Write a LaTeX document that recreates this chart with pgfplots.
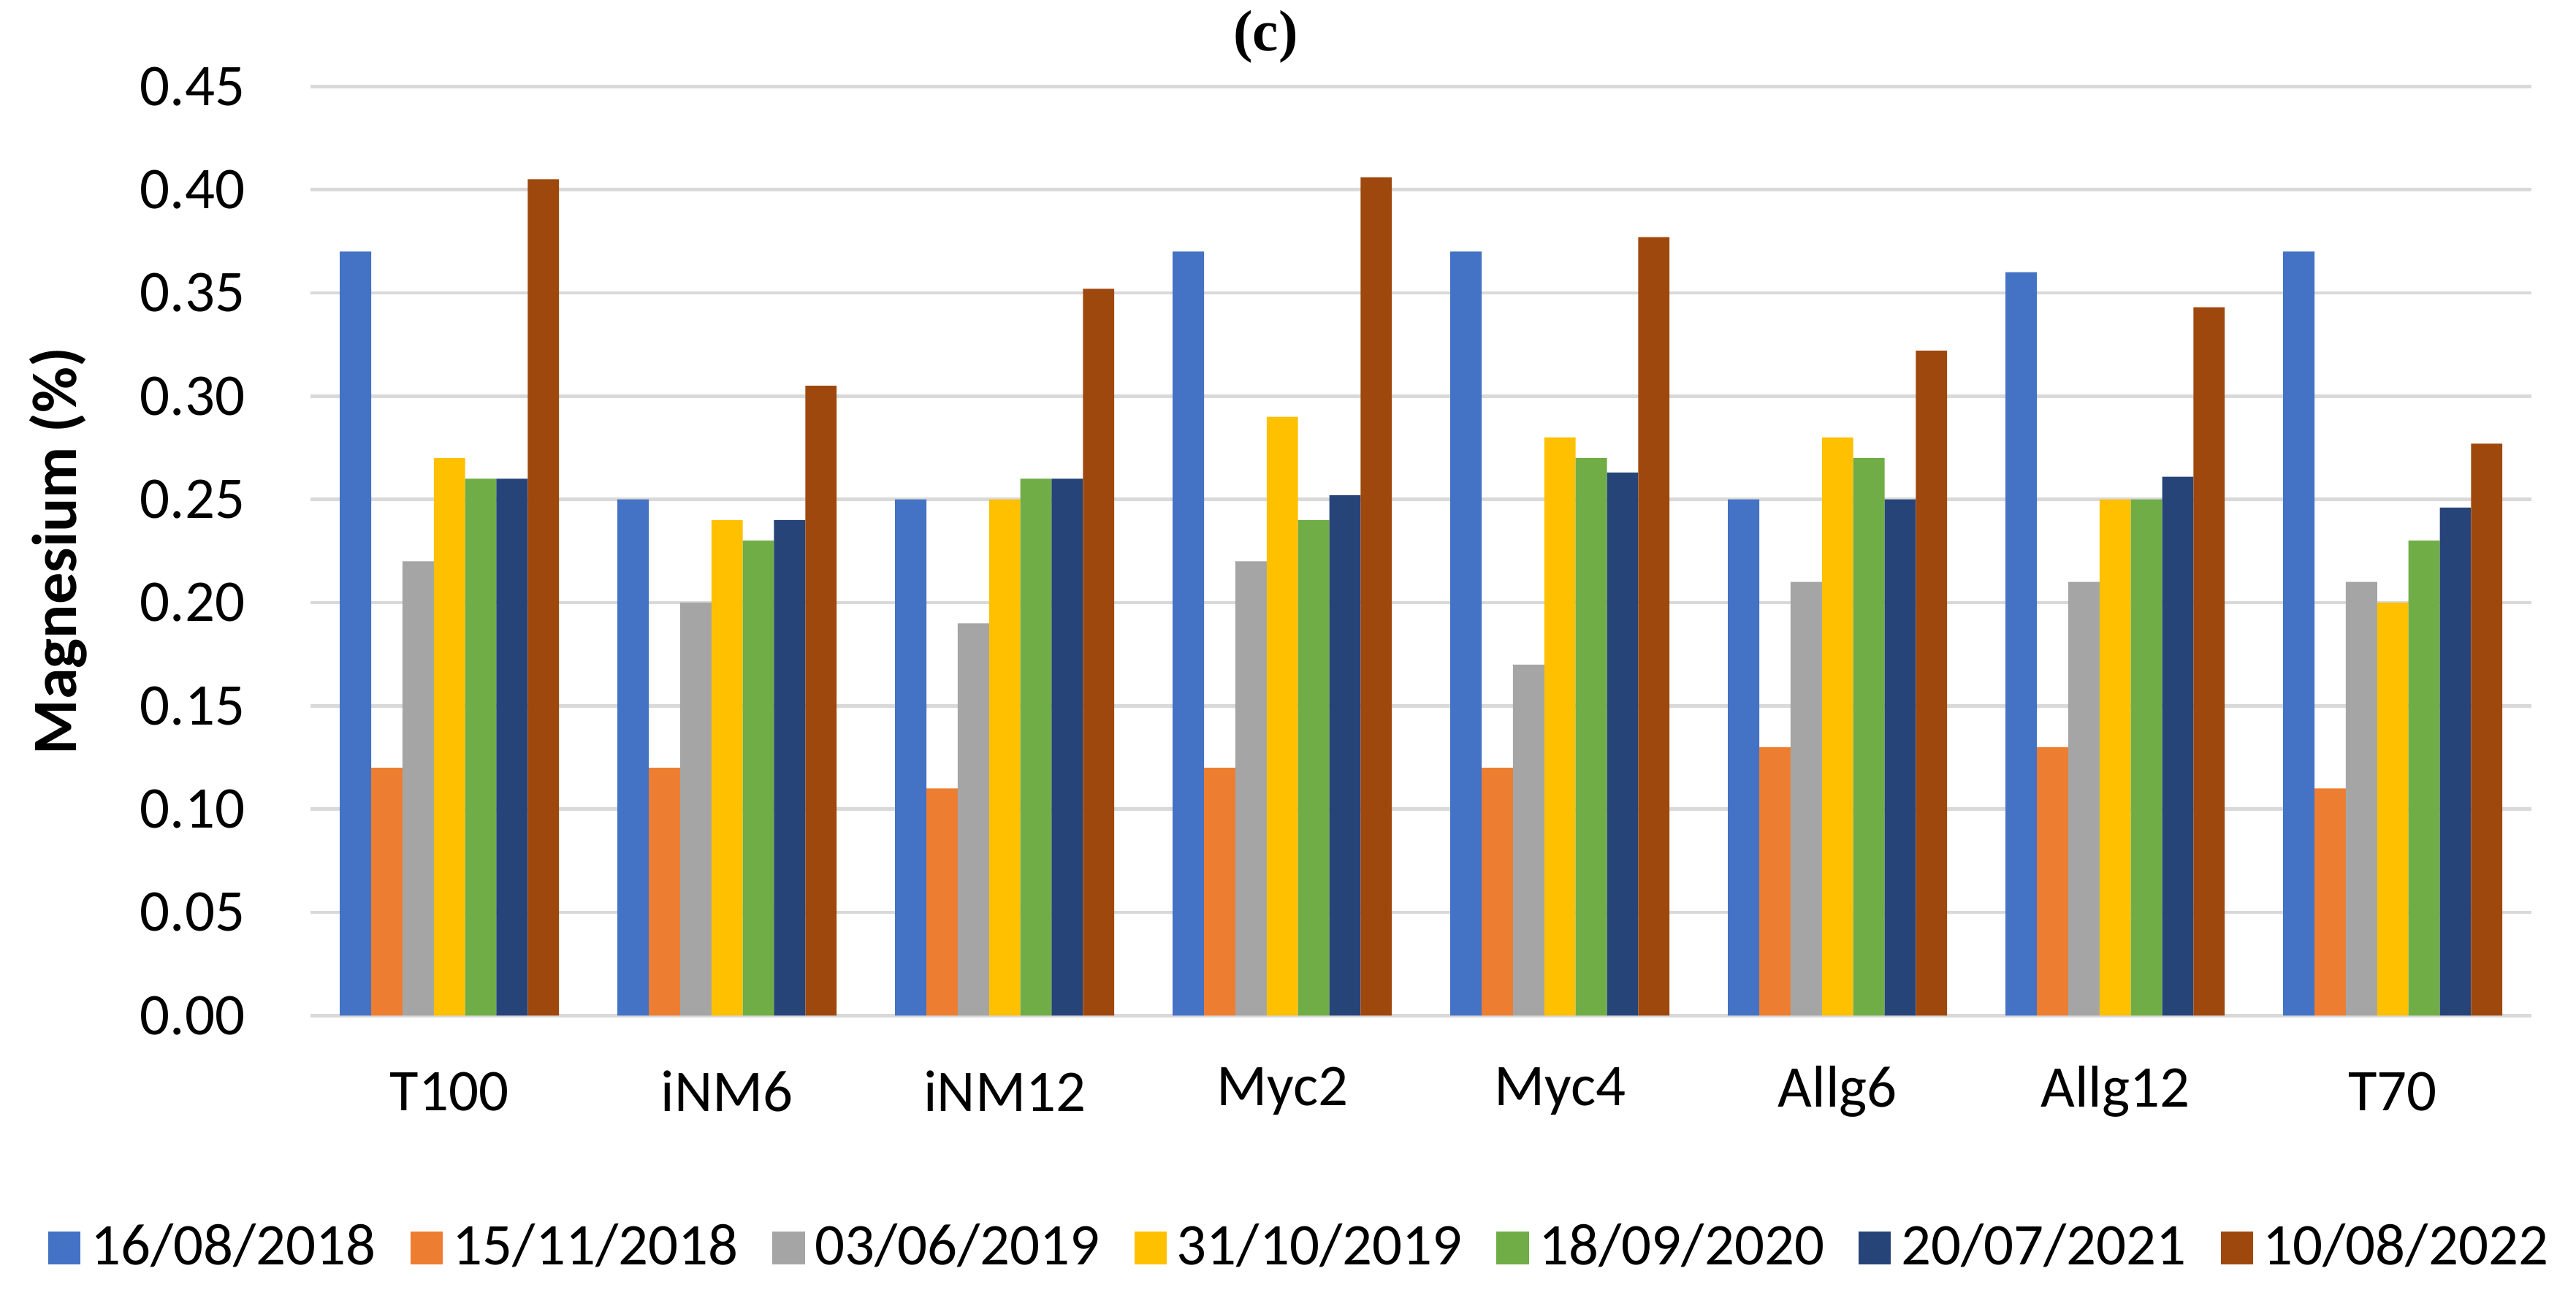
\documentclass[border=0pt]{standalone}
\usepackage{pgfplots}
\usepackage{pgfplotstable}
\pgfplotsset{compat=1.18}
\usepackage{fontspec}
\setmainfont{Carlito}
\newfontfamily\titlefont{Liberation Serif}

\definecolor{cA}{HTML}{4472C4}
\definecolor{cB}{HTML}{ED7D31}
\definecolor{cC}{HTML}{A5A5A5}
\definecolor{cD}{HTML}{FFC000}
\definecolor{cE}{HTML}{70AD47}
\definecolor{cF}{HTML}{264478}
\definecolor{cG}{HTML}{9E480E}
\definecolor{gridc}{HTML}{D9D9D9}

% magnesium (%) per treatment, one column per sampling date
\pgfplotstableread{
x  d1    d2    d3    d4    d5    d6     d7
0  0.37  0.12  0.22  0.27  0.26  0.26   0.405
1  0.25  0.12  0.20  0.24  0.23  0.24   0.305
2  0.25  0.11  0.19  0.25  0.26  0.26   0.352
3  0.37  0.12  0.22  0.29  0.24  0.252  0.406
4  0.37  0.12  0.17  0.28  0.27  0.263  0.377
5  0.25  0.13  0.21  0.28  0.27  0.25   0.322
6  0.36  0.13  0.21  0.25  0.25  0.261  0.343
7  0.37  0.11  0.21  0.20  0.23  0.246  0.277
}\mgdata

\begin{document}
\begin{tikzpicture}
\begin{axis}[
  scale only axis,
  width=439.7pt, height=184pt,
  ybar=0pt, bar width=6.2pt,
  xmin=-0.5, xmax=7.5,
  ymin=0, ymax=0.45,
  ytick={0,0.05,...,0.45},
  xtick={0,...,7},
  xticklabels={T100,iNM6,iNM12,Myc2,Myc4,Allg6,Allg12,T70},
  major tick length=0pt,
  axis line style={draw=none},
  xmajorgrids=false,
  ymajorgrids=true,
  grid style={draw=gridc, line width=0.65pt},
  /pgf/number format/assume math mode=true,
  /pgf/number format/.cd, fixed, fixed zerofill, precision=2, /pgfplots/.cd,
  tick label style={font=\fontsize{11.7}{14}\selectfont},
  yticklabel style={anchor=east, inner sep=0pt, xshift=-12.8pt},
  xticklabel style={anchor=center, inner sep=0pt, yshift=-15pt},
  ylabel={\bfseries Magnesium (\%)},
  ylabel style={at={(axis description cs:-0.1137,0.5)}, anchor=center,
    font=\fontsize{12.5}{15}\selectfont},
  title={\titlefont\bfseries (c)},
  title style={at={(axis description cs:0.43,1)}, anchor=center, yshift=3.8pt,
    font=\fontsize{11.5}{13}\selectfont},
  legend columns=7,
  legend style={at={(axis description cs:0.447,-0.25)}, anchor=center,
    draw=none, font=\fontsize{11.7}{14}\selectfont,
    /tikz/every even column/.append style={column sep=4.8pt},
    inner sep=0pt},
  legend image code/.code={\fill[#1] (0pt,-3.2pt) rectangle (6.4pt,3.2pt);},
  every axis plot/.append style={draw=none},
]
\addplot[fill=cA] table[x=x,y=d1]{\mgdata};
\addplot[fill=cB] table[x=x,y=d2]{\mgdata};
\addplot[fill=cC] table[x=x,y=d3]{\mgdata};
\addplot[fill=cD] table[x=x,y=d4]{\mgdata};
\addplot[fill=cE] table[x=x,y=d5]{\mgdata};
\addplot[fill=cF] table[x=x,y=d6]{\mgdata};
\addplot[fill=cG] table[x=x,y=d7]{\mgdata};
\legend{16/08/2018,15/11/2018,03/06/2019,31/10/2019,18/09/2020,20/07/2021,10/08/2022}
\end{axis}
\pgfresetboundingbox
\path[use as bounding box] (current axis.south west) ++(-61.5pt,-55.8pt) rectangle ++(510pt,256.9pt);
\end{tikzpicture}
\end{document}
